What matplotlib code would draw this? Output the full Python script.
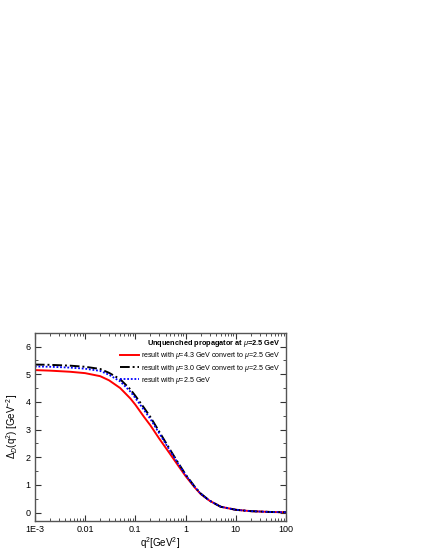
import numpy as np
import matplotlib
matplotlib.use("Agg")
import matplotlib.pyplot as plt
from matplotlib.ticker import FixedLocator, FixedFormatter, LogLocator, NullFormatter, MultipleLocator

# q^2 grid [GeV^2]
q2 = [0.001, 0.002, 0.005, 0.01, 0.02, 0.03, 0.05, 0.08, 0.1, 0.15, 0.2, 0.3,
      0.5, 0.7, 1.0, 1.5, 2.0, 3.0, 5.0, 10.0, 20.0, 50.0, 100.0]

# mu = 4.3 GeV converted to mu = 2.5 GeV
d_43 = [5.15, 5.13, 5.09, 5.04, 4.93, 4.78, 4.50, 4.12, 3.90, 3.45, 3.15, 2.67,
        2.10, 1.72, 1.32, 0.92, 0.67, 0.43, 0.21, 0.10, 0.05, 0.02, 0.01]
# mu = 3.0 GeV converted to mu = 2.5 GeV
d_30 = [5.35, 5.34, 5.31, 5.27, 5.19, 5.05, 4.82, 4.45, 4.22, 3.78, 3.45, 2.92,
        2.25, 1.82, 1.38, 0.95, 0.69, 0.43, 0.21, 0.10, 0.05, 0.02, 0.01]
# mu = 2.5 GeV
d_25 = [5.28, 5.27, 5.24, 5.20, 5.12, 4.98, 4.74, 4.37, 4.14, 3.70, 3.38, 2.86,
        2.21, 1.79, 1.36, 0.94, 0.68, 0.43, 0.21, 0.10, 0.05, 0.02, 0.01]

xticks = [1e-3, 1e-2, 1e-1, 1, 10, 100]
xticklabels = ["1E-3", "0.01", "0.1", "1", "10", "100"]

plt.rcParams["font.family"] = ["Liberation Sans", "DejaVu Sans"]
plt.rcParams["mathtext.fontset"] = "custom"
plt.rcParams["mathtext.rm"] = "Liberation Sans"
plt.rcParams["mathtext.it"] = "Liberation Sans:italic"

fig = plt.figure(figsize=(4.25, 5.5), dpi=100)
ax = fig.add_axes([0.082, 0.053, 0.591, 0.342])

ax.plot(q2, d_43, color="red", lw=1.4, label=r"result with $\mu$=4.3 GeV convert to $\mu$=2.5 GeV")
ax.plot(q2, d_30, color="black", lw=1.4, ls=(0, (5, 1.5, 1, 1.5)),
        label=r"result with $\mu$=3.0 GeV convert to $\mu$=2.5 GeV")
ax.plot(q2, d_25, color="blue", lw=1.3, ls=(0, (1, 1)), label=r"result with $\mu$=2.5 GeV")

ax.set_xscale("log")
ax.set_xlim(1e-3, 100)
ax.set_ylim(-0.3, 6.5)
ax.xaxis.set_major_locator(FixedLocator(xticks))
ax.xaxis.set_major_formatter(FixedFormatter(xticklabels))
ax.xaxis.set_minor_locator(LogLocator(base=10, subs=np.arange(2, 10)))
ax.xaxis.set_minor_formatter(NullFormatter())
ax.yaxis.set_major_locator(MultipleLocator(1))
ax.yaxis.set_minor_locator(MultipleLocator(0.5))

ax.tick_params(which="both", direction="in", top=True, right=True, labelsize=6.5, colors="#333333",
               labelcolor="black", pad=3)
ax.tick_params(which="major", length=4, width=0.8)
ax.tick_params(which="minor", length=2, width=0.6)
for s in ax.spines.values():
    s.set_color("#555555")
    s.set_linewidth(1.0)

ax.set_xlabel(r"q$^2$[GeV$^2$]", fontsize=7, labelpad=1)
ax.set_ylabel(r"$\Delta_D$(q$^2$) [GeV$^{-2}$]", fontsize=7)

leg = ax.legend(loc="upper right", frameon=False, fontsize=5.1, handlelength=2.6,
                handletextpad=0.3, labelspacing=0.15, borderaxespad=0.4,
                title=r"Unquenched propagator at $\mu$=2.5 GeV",
                title_fontproperties={"size": 5.3, "weight": "bold"})
leg._legend_box.align = "right"

fig.savefig("out.png", dpi=100)
